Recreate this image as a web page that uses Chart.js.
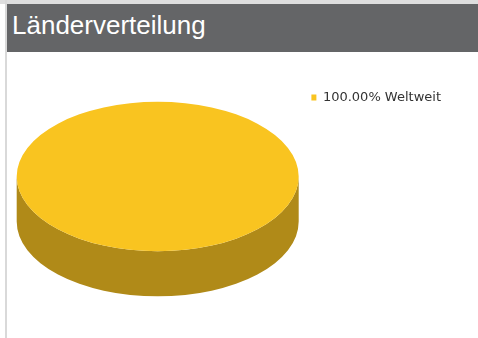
<!DOCTYPE html>
<html>
<head>
<meta charset="utf-8">
<script src="https://cdn.jsdelivr.net/npm/chart.js@4"></script>
<style>
  html, body { margin: 0; padding: 0; background: #fff; width: 478px; height: 338px; overflow: hidden; }
  body { position: relative; }
  #topline { position: absolute; left: 0; top: 0; width: 478px; height: 4px; background: #dedede; }
  #leftline { position: absolute; left: 5px; top: 0; width: 2px; height: 338px; background: #d9d9d9; z-index: 3; }
  #header { position: absolute; left: 7px; top: 4px; width: 471px; height: 48px; background: #646567; z-index: 2; }
  #header h1 { position: absolute; left: 5px; top: 8px; margin: 0; font: 26px/26px "Liberation Sans", Arial, sans-serif; color: #fff; font-weight: normal; }
  #wrap { position: absolute; left: 0; top: 0; width: 478px; height: 338px; z-index: 1; }
</style>
</head>
<body>
<div id="topline"></div>
<div id="leftline"></div>
<div id="header"><h1>Länderverteilung</h1></div>
<div id="wrap"><canvas id="c" width="478" height="338"></canvas></div>
<script>
// Country distribution
const regions = ['Weltweit'];
const shares = [100];
const topColors = ['#F9C420'];
const sideColors = ['#B08A18'];

const tilt = 0.53;        // vertical squash of the disc
const depthRatio = 0.32;  // height of the rim relative to the radius

// Draws the rim of each slice, then squashes the slice tops into an ellipse
const pie3d = {
  id: 'pie3d',
  beforeDatasetsDraw(chart) {
    const ctx = chart.ctx;
    const meta = chart.getDatasetMeta(0);
    let cy = 0;
    ctx.save();
    meta.data.forEach((arc, i) => {
      const p = arc.getProps(['x', 'y', 'startAngle', 'endAngle', 'outerRadius'], true);
      cy = p.y;
      const rx = p.outerRadius, ry = rx * tilt, d = rx * depthRatio;
      for (let k = -1; k <= 1; k++) {
        const lo = Math.max(p.startAngle, k * 2 * Math.PI);
        const hi = Math.min(p.endAngle, k * 2 * Math.PI + Math.PI);
        if (hi <= lo) continue;
        ctx.beginPath();
        ctx.ellipse(p.x, p.y, rx, ry, 0, lo, hi);
        ctx.ellipse(p.x, p.y + d, rx, ry, 0, hi, lo, true);
        ctx.closePath();
        ctx.fillStyle = sideColors[i % sideColors.length];
        ctx.fill();
      }
    });
    ctx.translate(0, cy);
    ctx.scale(1, tilt);
    ctx.translate(0, -cy);
  },
  afterDatasetsDraw(chart) {
    chart.ctx.restore();
  }
};

new Chart(document.getElementById('c'), {
  type: 'pie',
  data: {
    labels: regions,
    datasets: [{
      data: shares,
      backgroundColor: topColors,
      borderWidth: 0,
      radius: 141,
      clip: false
    }]
  },
  options: {
    responsive: false,
    animation: false,
    events: [],
    layout: { padding: { left: 16, top: 79, right: 27, bottom: 64 } },
    plugins: {
      tooltip: { enabled: false },
      legend: {
        position: 'right',
        align: 'start',
        labels: {
          boxWidth: 5,
          boxHeight: 6,
          padding: 12,
          color: '#333',
          font: { family: '"DejaVu Sans", Verdana, sans-serif', size: 13 },
          generateLabels(chart) {
            const ds = chart.data.datasets[0];
            const total = ds.data.reduce((a, b) => a + b, 0);
            return chart.data.labels.map((label, i) => ({
              text: (ds.data[i] / total * 100).toFixed(2) + '% ' + label,
              fillStyle: ds.backgroundColor[i],
              strokeStyle: ds.backgroundColor[i],
              lineWidth: 0,
              fontColor: '#333',
              hidden: false,
              index: i
            }));
          }
        }
      }
    }
  },
  plugins: [pie3d]
});
</script>
</body>
</html>
